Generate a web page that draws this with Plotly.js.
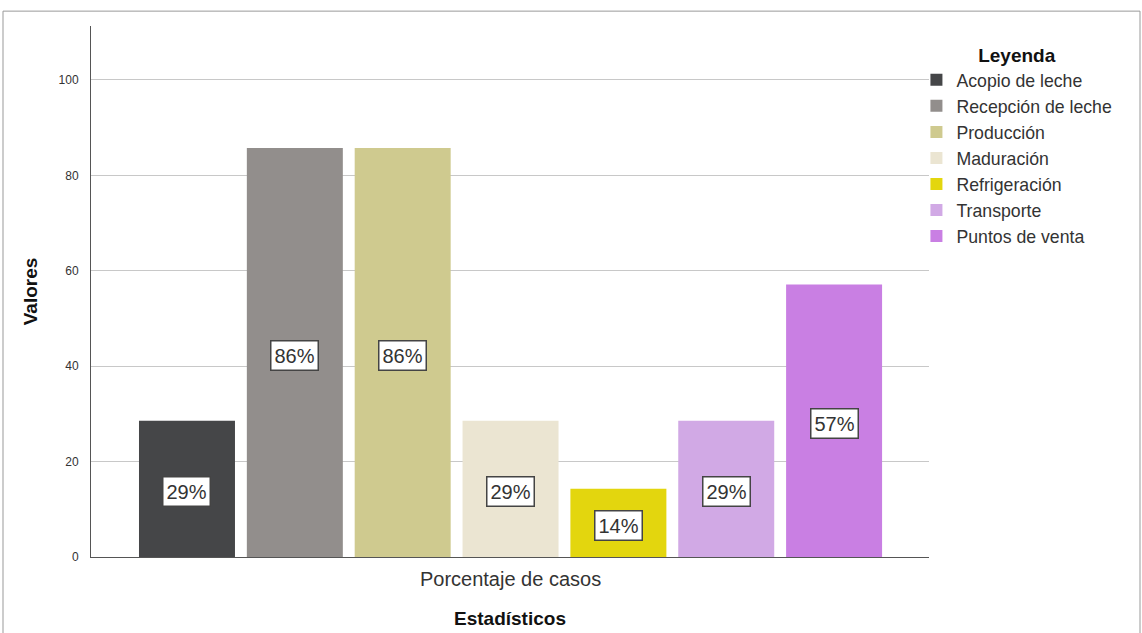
<!DOCTYPE html>
<html><head><meta charset="utf-8">
<script src="https://cdn.plot.ly/plotly-3.0.1.min.js"></script>
<style>html,body{margin:0;padding:0;background:#fff}#chart{width:1142px;height:633px}</style>
</head><body><div id="chart"></div>
<script>
const categories = ["Acopio de leche","Recepción de leche","Producción","Maduración","Refrigeración","Transporte","Puntos de venta"];
const values = [28.57, 85.71, 85.71, 28.57, 14.29, 28.57, 57.14];
const labels = ["29%","86%","86%","29%","14%","29%","57%"];
const colors = ["#454648","#928e8c","#cfca8f","#ebe5d2","#e3d60e","#d1a9e5","#c97fe3"];
const groupLabel = "Porcentaje de casos";
const yTicks = [0,20,40,60,80,100];

const font = "Liberation Sans, Arial, sans-serif";
const traces = categories.map((c,i)=>({
  type:"bar", name:c, x:[i], y:[values[i]], width:0.89,
  marker:{color:colors[i], line:{width:0}},
  hoverinfo:"skip"
}));
const annotations = categories.map((c,i)=>({
  x:i, y:values[i]/2 - 0.6, xref:"x", yref:"y", text:labels[i], showarrow:false,
  font:{family:font,size:20,color:"#333"}, bgcolor:"#fff", bordercolor:"#444",
  borderwidth:1.5, borderpad:3
}));
const layout = {
  width:1142, height:633,
  margin:{l:91, r:213, t:26, b:76, autoexpand:false},
  paper_bgcolor:"#fff", plot_bgcolor:"#fff",
  font:{family:font, color:"#222"},
  showlegend:true,
  barmode:"overlay",
  xaxis:{range:[-0.89,6.88], tickvals:[3], ticktext:[groupLabel], showgrid:false, zeroline:false,
    showline:true, linecolor:"#555", linewidth:1, ticks:"", tickfont:{size:20,color:"#333"},
    ticklabelstandoff:4,
    title:{text:"<b>Estadísticos</b>", font:{size:19,color:"#111"}, standoff:22}, fixedrange:true},
  yaxis:{range:[0,111.3], tickvals:yTicks, showgrid:true, gridcolor:"#c8c8c8", gridwidth:1,
    zeroline:false, showline:true, linecolor:"#555", linewidth:1, ticks:"", tickfont:{size:12,color:"#333"},
    ticklabelstandoff:9,
    title:{text:"<b>Valores</b>", font:{size:19,color:"#111"}, standoff:15}},
  legend:{x:0.985, xanchor:"left", y:0.979, yanchor:"top", font:{size:17.7,color:"#333"},
    title:{text:"<b>Leyenda</b>", side:"top center", font:{size:19,color:"#111"}},
    tracegroupgap:0, itemwidth:30, bgcolor:"rgba(0,0,0,0)"},
  annotations:annotations,
  shapes:[{type:"rect", xref:"paper", yref:"paper", x0:-0.105, x1:1.2518, y0:-0.2, y1:1.028,
    line:{color:"#999", width:1}, fillcolor:"rgba(0,0,0,0)", layer:"below"}]
};
Plotly.newPlot("chart", traces, layout, {displayModeBar:false, staticPlot:true});
</script></body></html>
